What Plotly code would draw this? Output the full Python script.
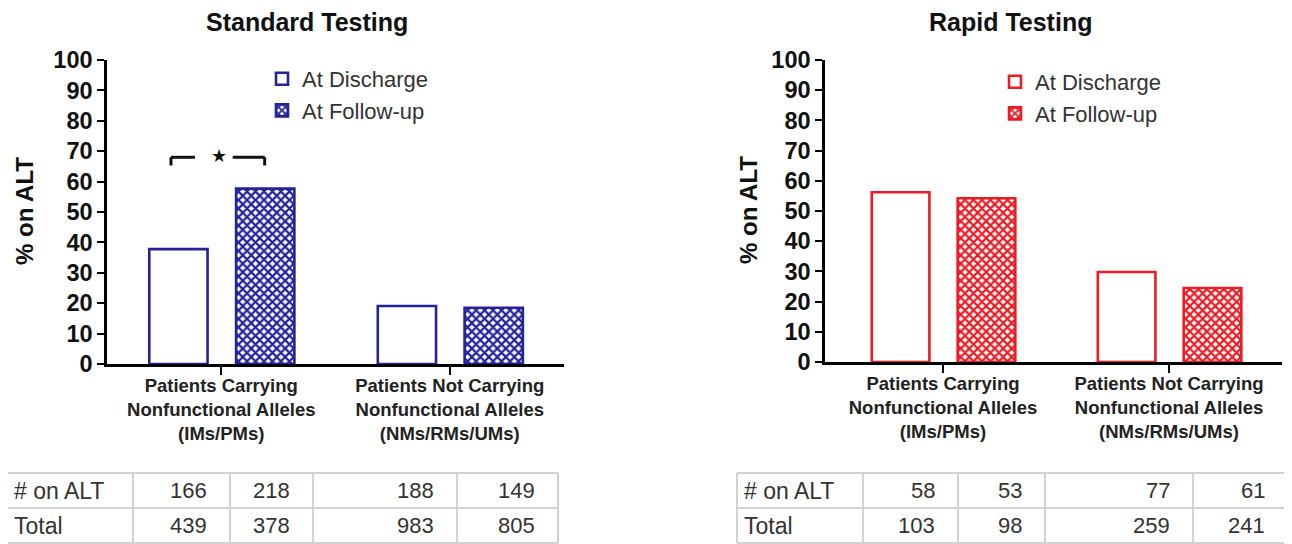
import plotly.graph_objects as go

# The page body has an 8px margin, so the figure starts at (8, 8) inside the 1292x544 window.
OFF = 8
W, H = 1292 - OFF, 544 - OFF

# ---------------- data ----------------
categories = ["Patients Carrying<br>Nonfunctional Alleles<br>(IMs/PMs)",
              "Patients Not Carrying<br>Nonfunctional Alleles<br>(NMs/RMs/UMs)"]
series_names = ["At Discharge", "At Follow-up"]

std_discharge = [37.8, 19.1]
std_followup = [57.7, 18.5]
rapid_discharge = [56.2, 29.8]
rapid_followup = [54.2, 24.5]

row_labels = ["# on ALT", "Total"]
std_on_alt = [166, 218, 188, 149]
std_total = [439, 378, 983, 805]
rapid_on_alt = [58, 53, 77, 61]
rapid_total = [103, 98, 259, 241]

titles = ["Standard Testing", "Rapid Testing"]
y_title = "% on ALT"
y_ticks = list(range(0, 101, 10))

BLUE = "#24239c"
RED = "#ec1c24"
FONT = "Liberation Sans, Arial, sans-serif"


def px(x):
    """window pixel x -> paper fraction"""
    return (x - OFF) / W


def py(y):
    """window pixel y -> paper fraction"""
    return 1 - (y - OFF) / H


fig = go.Figure()

panels = [
    dict(xa="x", ya="y", color=BLUE, dis=std_discharge, fol=std_followup, legend="legend"),
    dict(xa="x2", ya="y2", color=RED, dis=rapid_discharge, fol=rapid_followup, legend="legend2"),
]
xpos = list(range(len(categories)))

for p in panels:
    fig.add_trace(go.Bar(
        x=xpos, y=p["dis"], name=series_names[0], xaxis=p["xa"], yaxis=p["ya"],
        width=0.255, offset=-0.315,
        marker=dict(color="white", line=dict(color=p["color"], width=2.6)),
        legend=p["legend"], hoverinfo="y",
    ))
    fig.add_trace(go.Bar(
        x=xpos, y=p["fol"], name=series_names[1], xaxis=p["xa"], yaxis=p["ya"],
        width=0.255, offset=0.065,
        marker=dict(color="white", line=dict(color=p["color"], width=2.6),
                    pattern=dict(shape="x", fgcolor=p["color"], bgcolor="white",
                                 size=6, solidity=0.6, fillmode="replace")),
        legend=p["legend"], hoverinfo="y",
    ))

xaxis_common = dict(
    tickmode="array", tickvals=xpos, ticktext=categories,
    showline=True, linecolor="black", linewidth=2.5,
    ticks="outside", ticklen=8, tickwidth=2, tickcolor="black",
    ticklabelstandoff=-5,
    tickfont=dict(family=FONT, size=18.5, color="#222", weight="bold"),
    showgrid=False, zeroline=False, fixedrange=True, automargin=False,
)
yaxis_common = dict(
    range=[0, 100], tickmode="array", tickvals=y_ticks,
    showline=True, linecolor="black", linewidth=2.5,
    ticks="outside", ticklen=7, tickwidth=2, tickcolor="black",
    tickfont=dict(family=FONT, size=23.5, color="#111", weight="bold"),
    showgrid=False, zeroline=False, fixedrange=True, automargin=False,
)

fig.update_layout(
    template="none",
    width=W, height=H,
    margin=dict(l=0, r=0, t=0, b=0, pad=0, autoexpand=False),
    paper_bgcolor="white", plot_bgcolor="white",
    barmode="overlay",
    showlegend=True,
    xaxis=dict(domain=[px(107), px(564)], range=[-0.5, 1.5], anchor="y", **xaxis_common),
    yaxis=dict(domain=[py(364), py(60)], anchor="x", **yaxis_common),
    xaxis2=dict(domain=[px(825), px(1282)], range=[-0.522, 1.5], anchor="y2", **xaxis_common),
    yaxis2=dict(domain=[py(362), py(60)], anchor="x2", **yaxis_common),
    legend=dict(x=px(262), y=py(58), xanchor="left", yanchor="top",
                font=dict(family=FONT, size=22, color="#333"),
                bgcolor="rgba(0,0,0,0)", traceorder="normal", itemwidth=30,
                tracegroupgap=0),
    legend2=dict(x=px(995), y=py(61), xanchor="left", yanchor="top",
                 font=dict(family=FONT, size=22, color="#333"),
                 bgcolor="rgba(0,0,0,0)", traceorder="normal", itemwidth=30,
                 tracegroupgap=0),
)

annotations = []
shapes = []

# titles
for t, cx in zip(titles, [307, 1010]):
    annotations.append(dict(text=f"<b>{t}</b>", x=px(cx), y=py(22), xref="paper", yref="paper",
                            showarrow=False, xanchor="center", yanchor="middle",
                            font=dict(family=FONT, size=25, color="#111")))
# y titles
for cx, cy in [(24, 211), (748, 210)]:
    annotations.append(dict(text=f"<b>{y_title}</b>", x=px(cx), y=py(cy), xref="paper", yref="paper",
                            showarrow=False, textangle=-90, xanchor="center", yanchor="middle",
                            font=dict(family=FONT, size=24, color="#111")))

# significance bracket (standard testing, first category)
bracket_y, bracket_drop = 68.0, 65.3
for x0, x1 in [(-0.22, -0.115), (0.05, 0.19)]:
    shapes.append(dict(type="line", xref="x", yref="y", x0=x0, x1=x1, y0=bracket_y, y1=bracket_y,
                       line=dict(color="#111", width=3)))
for xe in [-0.22, 0.19]:
    shapes.append(dict(type="line", xref="x", yref="y", x0=xe, x1=xe, y0=bracket_y, y1=bracket_drop,
                       line=dict(color="#111", width=3)))
annotations.append(dict(text="★", x=-0.01, y=bracket_y + 0.6, xref="x", yref="y", showarrow=False,
                        xanchor="center", yanchor="middle", font=dict(family="DejaVu Sans", size=18, color="#111")))

# tables
tables = [
    dict(cols=[7, 133, 230, 313, 457, 558], rows=[std_on_alt, std_total]),
    dict(cols=[737, 863, 958, 1045, 1193, 1288], rows=[rapid_on_alt, rapid_total]),
]
row_edges = [473, 508, 543]
GRID = "#d2d2d2"
for tb in tables:
    cols = tb["cols"]
    for cx in cols:
        shapes.append(dict(type="line", xref="paper", yref="paper", x0=px(cx), x1=px(cx),
                           y0=py(row_edges[0]), y1=py(row_edges[-1]), line=dict(color=GRID, width=2)))
    for ry in row_edges:
        shapes.append(dict(type="line", xref="paper", yref="paper", x0=px(cols[0]), x1=px(cols[-1]),
                           y0=py(ry), y1=py(ry), line=dict(color=GRID, width=2)))
    for ri, (label, vals) in enumerate(zip(row_labels, tb["rows"])):
        cy = (row_edges[ri] + row_edges[ri + 1]) / 2
        annotations.append(dict(text=label, x=px(cols[0] + 5), y=py(cy), xref="paper", yref="paper",
                                showarrow=False, xanchor="left", yanchor="middle",
                                font=dict(family=FONT, size=23, color="#333")))
        for ci, v in enumerate(vals):
            annotations.append(dict(text=str(v), x=px(cols[ci + 2] - 21), y=py(cy), xref="paper", yref="paper",
                                    showarrow=False, xanchor="right", yanchor="middle",
                                    font=dict(family=FONT, size=22, color="#333")))

fig.update_layout(annotations=annotations, shapes=shapes)

fig.write_html("out.html")
